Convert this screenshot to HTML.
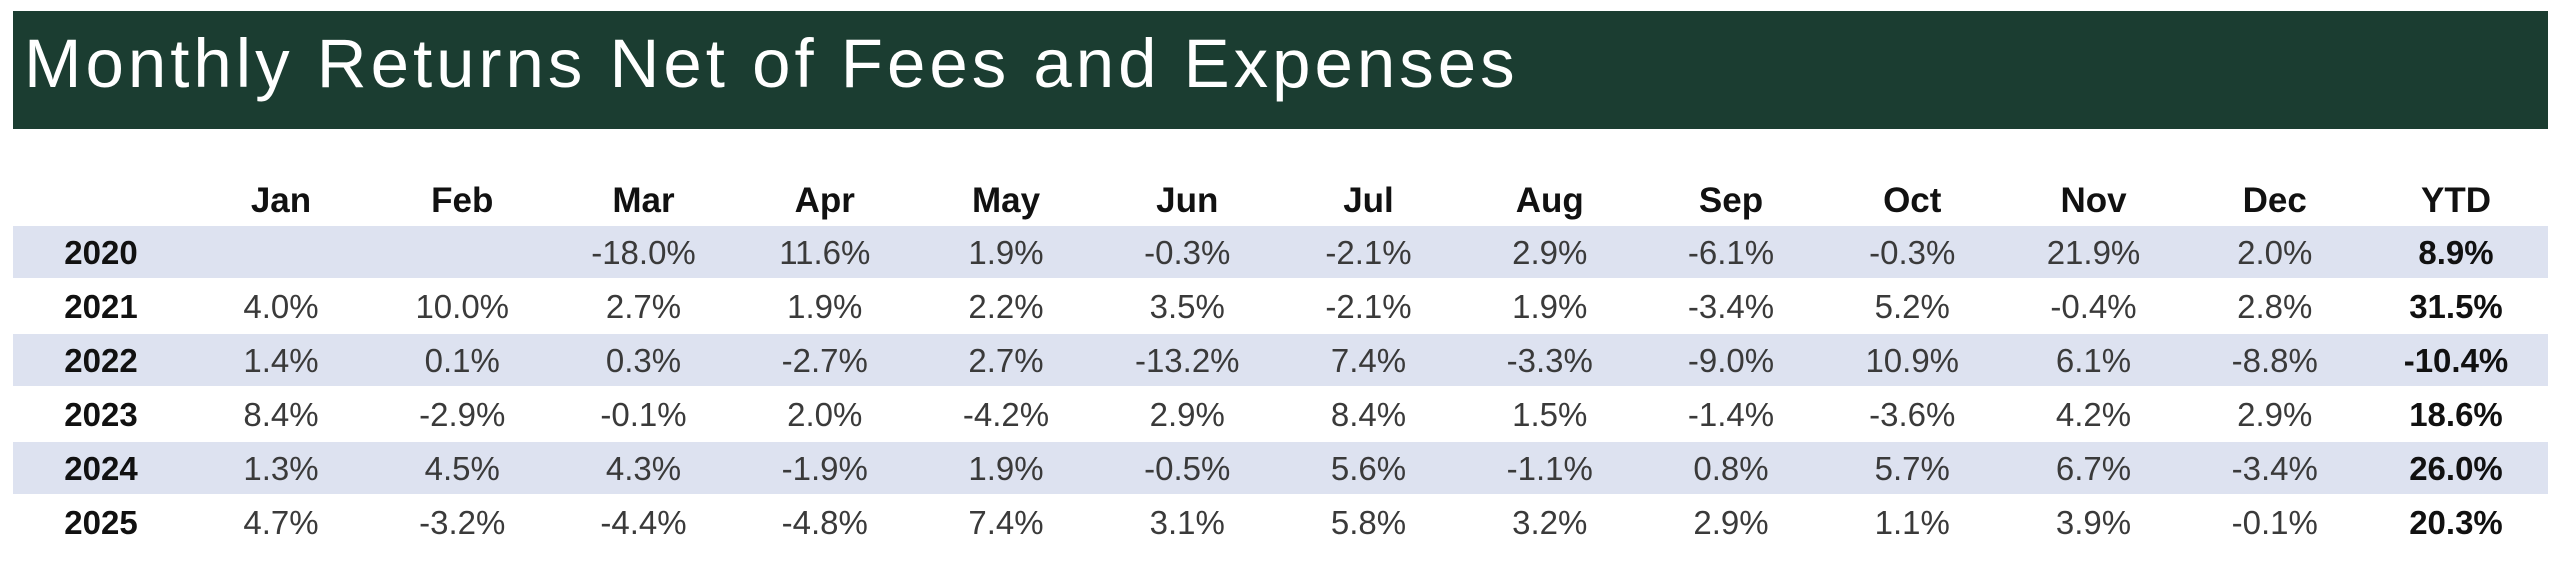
<!DOCTYPE html>
<html><head><meta charset="utf-8">
<style>
html,body{margin:0;padding:0;background:#fff;width:2560px;height:566px;overflow:hidden;font-family:"Liberation Sans",sans-serif;}
#banner{position:absolute;left:13px;top:11px;width:2535px;height:118px;background:#1b3d31;}
#title{position:absolute;left:24px;top:24px;color:#fff;font-size:69px;letter-spacing:4px;line-height:80px;white-space:nowrap;}
.band{position:absolute;left:13px;width:2535px;height:52px;background:#dde2f0;}
.cell{position:absolute;width:180px;text-align:center;font-size:33px;color:#3a3a3a;line-height:40px;}
.hdr{font-weight:bold;color:#111;font-size:35px;}
.yr{font-weight:bold;color:#111;}
.ytd{font-weight:bold;color:#111;}
</style></head><body>
<div id="banner"></div>
<div id="title">Monthly Returns Net of Fees and Expenses</div>
<div id="tbl"></div>
<script>
const months = ["Jan","Feb","Mar","Apr","May","Jun","Jul","Aug","Sep","Oct","Nov","Dec","YTD"];
const years = ["2020","2021","2022","2023","2024","2025"];
const r2020 = ["","","-18.0%","11.6%","1.9%","-0.3%","-2.1%","2.9%","-6.1%","-0.3%","21.9%","2.0%","8.9%"];
const r2021 = ["4.0%","10.0%","2.7%","1.9%","2.2%","3.5%","-2.1%","1.9%","-3.4%","5.2%","-0.4%","2.8%","31.5%"];
const r2022 = ["1.4%","0.1%","0.3%","-2.7%","2.7%","-13.2%","7.4%","-3.3%","-9.0%","10.9%","6.1%","-8.8%","-10.4%"];
const r2023 = ["8.4%","-2.9%","-0.1%","2.0%","-4.2%","2.9%","8.4%","1.5%","-1.4%","-3.6%","4.2%","2.9%","18.6%"];
const r2024 = ["1.3%","4.5%","4.3%","-1.9%","1.9%","-0.5%","5.6%","-1.1%","0.8%","5.7%","6.7%","-3.4%","26.0%"];
const r2025 = ["4.7%","-3.2%","-4.4%","-4.8%","7.4%","3.1%","5.8%","3.2%","2.9%","1.1%","3.9%","-0.1%","20.3%"];
const rows = [r2020,r2021,r2022,r2023,r2024,r2025];
const tbl = document.getElementById('tbl');
const colX = i => 281 + i*181.25;
const rowY = j => 253 + j*54;
function mk(cls, txt, cx, cy){
  const d = document.createElement('div');
  d.className = 'cell ' + cls;
  d.textContent = txt;
  d.style.left = (cx-90)+'px';
  d.style.top = (cy-20)+'px';
  tbl.appendChild(d);
  return d;
}
years.forEach((y,j)=>{
  if(j%2===0){
    const b=document.createElement('div');
    b.className='band';
    b.style.top=(rowY(j)-27)+'px';
    
    
    tbl.appendChild(b);
  }
});
months.forEach((m,i)=>{
  const d=mk('hdr',m,colX(i),201);
  
  
});
years.forEach((y,j)=>{
  const d=mk('yr',y,101,rowY(j));
  
  
  rows[j].forEach((v,i)=>{
    const c=mk(i===12?'ytd':'',v,colX(i),rowY(j));
    
    
  });
});
</script>
</body></html>
